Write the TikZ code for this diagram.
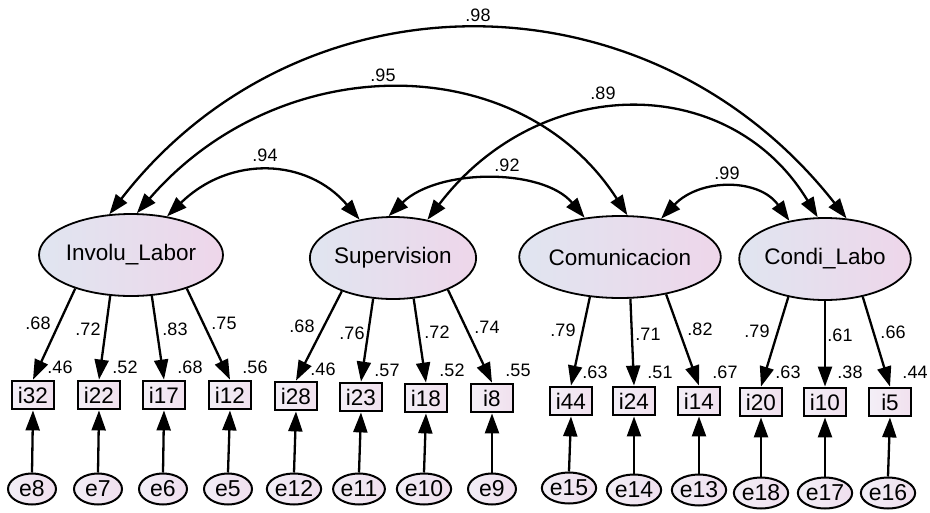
\documentclass[tikz,border=0pt]{standalone}
\usepackage{fontspec}
\setmainfont{Liberation Sans}
\usetikzlibrary{arrows.meta,shapes.geometric}
\definecolor{latL}{HTML}{E0E5F0}
\definecolor{latR}{HTML}{EED6EA}
\definecolor{obsL}{HTML}{F3EFF7}
\definecolor{obsR}{HTML}{F1E1EE}
\definecolor{errL}{HTML}{F1EEF6}
\definecolor{errR}{HTML}{F0DFEE}
\begin{document}
\begin{tikzpicture}[x=1pt,y=-1pt,
  lat/.style={ellipse,draw,line width=1.8pt,minimum width=163pt,minimum height=82pt,inner sep=0pt,left color=latL,right color=latR,font=\fontsize{22.5}{26}\selectfont},
  obs/.style={rectangle,draw,line width=2.8pt,minimum width=42pt,minimum height=28pt,inner sep=0pt,left color=obsL,right color=obsR,font=\fontsize{22.5}{26}\selectfont},
  err/.style={ellipse,draw,line width=2pt,minimum width=48pt,minimum height=31pt,inner sep=0pt,left color=errL,right color=errR,font=\fontsize{23}{26}\selectfont},
  coef/.style={font=\fontsize{18}{20}\selectfont,inner sep=0pt},
  arr/.style={line width=2.3pt,-{Triangle[length=20pt,width=14pt]}},
  darr/.style={line width=2.3pt,{Triangle[length=20pt,width=14pt]}-{Triangle[length=20pt,width=14pt]}},
]
\useasboundingbox[fill=white] (0,0) rectangle (930,512);

% latent variables
\node[lat] (inv) at (131,255) {Involu\_Labor};
\node[lat] (sup) at (393,258) {Supervision};
\node[lat] (com) at (620,257) {Comunicacion};
\node[lat] (cnd) at (825,259) {Condi\_Labo};

% observed variables
\node[obs] (i32) at (33,395) {i32};
\node[obs] (i22) at (99,395) {i22};
\node[obs] (i17) at (164,395) {i17};
\node[obs] (i12) at (230,395) {i12};
\node[obs] (i28) at (296,396) {i28};
\node[obs] (i23) at (361,397) {i23};
\node[obs] (i18) at (426,398) {i18};
\node[obs] (i8) at (492,398) {i8};
\node[obs] (i44) at (571,401) {i44};
\node[obs] (i24) at (634,401) {i24};
\node[obs] (i14) at (699,401) {i14};
\node[obs] (i20) at (761,402) {i20};
\node[obs] (i10) at (825,402) {i10};
\node[obs] (i5) at (890,402) {i5};

% errors
\node[err] (e8) at (32,489) {e8};
\node[err] (e7) at (98,489) {e7};
\node[err] (e6) at (163,489) {e6};
\node[err] (e5) at (228,489) {e5};
\node[err] (e12) at (294,489) {e12};
\node[err] (e11) at (359,489) {e11};
\node[err] (e10) at (424,489) {e10};
\node[err] (e9) at (492,489) {e9};
\node[err] (e15) at (569,488) {e15};
\node[err] (e14) at (634,490) {e14};
\node[err] (e13) at (699,490) {e13};
\node[err] (e18) at (761,493) {e18};
\node[err] (e17) at (825,493) {e17};
\node[err] (e16) at (888,493) {e16};

% error arrows
\foreach \e/\i in {e8/i32,e7/i22,e6/i17,e5/i12,e12/i28,e11/i23,e10/i18,e9/i8,e15/i44,e14/i24,e13/i14,e18/i20,e17/i10,e16/i5}
  \draw[arr] (\e.north) -- (\i.south);

% loadings
\draw[arr] (inv.211) -- (i32.north);
\draw[arr] (inv.243) -- (i22.north);
\draw[arr] (inv.297) -- (i17.north);
\draw[arr] (inv.329) -- (i12.north);
\draw[arr] (sup.213) -- (i28.north);
\draw[arr] (sup.244) -- (i23.north);
\draw[arr] (sup.297) -- (i18.north);
\draw[arr] (sup.330) -- (i8.north);
\draw[arr] (com.233) -- (i44.north);
\draw[arr] (com.284) -- (i24.north);
\draw[arr] (com.321) -- (i14.north);
\draw[arr] (cnd.226) -- (i20.north);
\draw[arr] (cnd.270) -- (i10.north);
\draw[arr] (cnd.315) -- (i5.north);

% covariances
\draw[darr] (inv.118) .. controls (300,-32) and (650,-32) .. (cnd.62);
\draw[darr] (inv.82) .. controls (280,48) and (520,48) .. (com.80);
\draw[darr] (inv.47) .. controls (230,155) and (307,158) .. (sup.131);
\draw[darr] (sup.96) .. controls (438,168) and (543,168) .. (com.132);
\draw[darr] (sup.48) .. controls (540,72) and (730,72) .. (cnd.100);
\draw[darr] (com.43) .. controls (700,178) and (759,178) .. (cnd.133);

% covariance labels
\node[coef] (c98) at (478,15) {.98};
\node[coef] (c95) at (383,75) {.95};
\node[coef] (c94) at (265,155) {.94};
\node[coef] (c89) at (603,93) {.89};
\node[coef] (c92) at (507,165) {.92};
\node[coef] (c99) at (727,173) {.99};

% loading labels
\node[coef] (l1) at (38,323) {.68};
\node[coef] (l2) at (88,329) {.72};
\node[coef] (l3) at (175,329) {.83};
\node[coef] (l4) at (224,323) {.75};
\node[coef] (l5) at (302,326) {.68};
\node[coef] (l6) at (352,333) {.76};
\node[coef] (l7) at (437,332) {.72};
\node[coef] (l8) at (487,327) {.74};
\node[coef] (l9) at (563,330) {.79};
\node[coef] (l10) at (648,334) {.71};
\node[coef] (l11) at (700,329) {.82};
\node[coef] (l12) at (757,331) {.79};
\node[coef] (l13) at (840,335) {.61};
\node[coef] (l14) at (893,332) {.66};

% R-squared labels
\node[coef] (r1) at (60,367) {.46};
\node[coef] (r2) at (125,367) {.52};
\node[coef] (r3) at (190,367) {.68};
\node[coef] (r4) at (255,367) {.56};
\node[coef] (r5) at (323,369) {.46};
\node[coef] (r6) at (387,370) {.57};
\node[coef] (r7) at (452,370) {.52};
\node[coef] (r8) at (518,370) {.55};
\node[coef] (r9) at (595,372) {.63};
\node[coef] (r10) at (660,372) {.51};
\node[coef] (r11) at (725,372) {.67};
\node[coef] (r12) at (788,372) {.63};
\node[coef] (r13) at (850,372) {.38};
\node[coef] (r14) at (915,372) {.44};
\end{tikzpicture}
\end{document}
